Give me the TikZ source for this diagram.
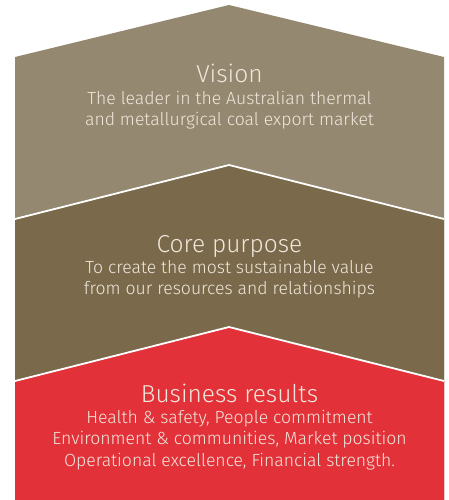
\documentclass[tikz,border=0pt]{standalone}
\usepackage{fontspec}
\setmainfont{Fira Sans Light}
\usepackage{tikz}
\usetikzlibrary{positioning}

\definecolor{visioncol}{HTML}{958870}
\definecolor{corecol}{HTML}{7A6A4B}
\definecolor{resultcol}{HTML}{E3313A}
\definecolor{textcol}{HTML}{EFE7DB}

\begin{document}
\begin{tikzpicture}[x=1pt,y=-1pt,node distance=1pt]
\tikzstyle{heading}=[text=textcol,inner sep=0pt,text depth=0pt,font=\fontsize{24.5}{26}\selectfont]
\tikzstyle{body}=[text=textcol,inner sep=0pt,align=center,font=\fontsize{17.6}{21.3}\selectfont]
\tikzstyle{edge}=[draw=white,line width=1.8pt]
\useasboundingbox (0,0) rectangle (449,500);

% the three stacked chevrons, from top to bottom
\fill[visioncol] (15,57) -- (229,5) -- (444,57) -- (444,500) -- (15,500) -- cycle;
\fill[corecol] (15,219) -- (229,165) -- (444,219) -- (444,500) -- (15,500) -- cycle;
\draw[edge] (15,219) -- (229,165) -- (444,219);
\fill[resultcol] (15,381) -- (229,327) -- (444,381) -- (444,500) -- (15,500) -- cycle;
\draw[edge] (15,381) -- (229,327) -- (444,381);

% labels
\node[heading,anchor=base] (VT) at (229.5,83) {Vision};
\node[body,below=8pt of VT] (VB) {The leader in the Australian thermal\\and metallurgical coal export market};

\node[heading,anchor=base] (CT) at (229.5,252) {Core purpose};
\node[body,below=8pt of CT] (CB) {To create the most sustainable value\\from our resources and relationships};

\node[heading,anchor=base] (BT) at (229.5,402) {Business results};
\node[body,below=8pt of BT] (BB) {Health \& safety, People commitment\\Environment \& communities, Market position\\Operational excellence, Financial strength.};
\end{tikzpicture}
\end{document}
